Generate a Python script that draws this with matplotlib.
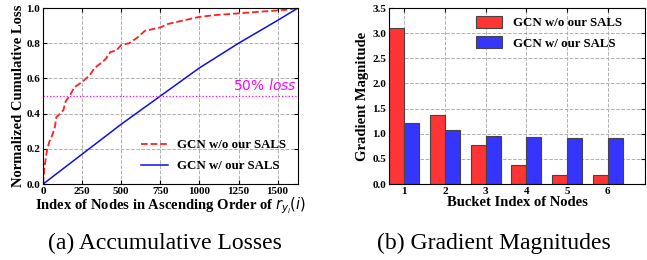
import matplotlib
matplotlib.use("Agg")
import matplotlib.pyplot as plt
import numpy as np

# (a) cumulative loss curves
x_without = [0, 10, 25, 40, 60, 75, 85, 110, 130, 145, 170, 200, 250, 300, 330, 360, 400,
             430, 470, 500, 550, 600, 650, 700, 750, 800, 850, 900, 950, 1000, 1100, 1250,
             1400, 1550, 1630]
y_without = [0.0, 0.10, 0.19, 0.24, 0.28, 0.32, 0.38, 0.40, 0.42, 0.47, 0.50, 0.55, 0.58,
             0.62, 0.66, 0.68, 0.71, 0.75, 0.76, 0.79, 0.80, 0.83, 0.87, 0.88, 0.89, 0.91,
             0.92, 0.93, 0.94, 0.95, 0.96, 0.97, 0.98, 0.99, 1.0]
x_with = [0, 250, 500, 750, 1000, 1250, 1500, 1630]
y_with = [0.0, 0.17, 0.34, 0.50, 0.66, 0.80, 0.93, 1.0]

# (b) gradient magnitude per bucket
buckets = [1, 2, 3, 4, 5, 6]
grad_without = [3.1, 1.38, 0.78, 0.38, 0.19, 0.19]
grad_with = [1.21, 1.08, 0.96, 0.94, 0.92, 0.91]

lbl_without = "GCN w/o our SALS"
lbl_with = "GCN w/ our SALS"

SERIF = "Liberation Serif"
plt.rcParams["font.family"] = SERIF
plt.rcParams["mathtext.fontset"] = "dejavusans"

fig = plt.figure(figsize=(6.47, 2.6), dpi=100)
ax1 = fig.add_axes([0.0665, 0.292, 0.394, 0.677])
ax2 = fig.add_axes([0.601, 0.292, 0.396, 0.677])


def style_axes(ax):
    ax.tick_params(direction="in", top=True, right=True, labelsize=8, pad=2, length=3)
    for lab in ax.get_xticklabels() + ax.get_yticklabels():
        lab.set_fontweight("bold")
        lab.set_family(SERIF)
    ax.grid(True, linestyle="--", color="#b0b0b0", linewidth=0.7)
    ax.set_axisbelow(True)
    for s in ax.spines.values():
        s.set_linewidth(0.8)


lab_font = {"fontsize": 10.5, "fontweight": "bold", "family": SERIF}
leg_font = {"weight": "bold", "size": 9.3, "family": SERIF}

# left panel
ax1.plot(x_without, y_without, color="#ff2020", linestyle="--", linewidth=1.3, label=lbl_without)
ax1.plot(x_with, y_with, color="#1010e0", linestyle="-", linewidth=1.1, label=lbl_with)
ax1.axhline(0.5, color="magenta", linestyle=":", linewidth=0.9)
ax1.text(1620, 0.515, "50% $\\it{loss}$", color="magenta", fontsize=10,
         family="DejaVu Sans", ha="right", va="bottom")
ax1.set_xlim(0, 1630)
ax1.set_ylim(0, 1.0)
ax1.set_xticks([0, 250, 500, 750, 1000, 1250, 1500])
ax1.set_yticks(np.arange(0, 1.01, 0.2))
ax1.set_ylabel("Normalized Cumulative Loss", labelpad=1, **lab_font)
ax1.set_xlabel("Index of Nodes in Ascending Order of $r_{y_i}(i)$", labelpad=0, **lab_font)
style_axes(ax1)
ax1.legend(loc="lower right", frameon=False, prop=leg_font,
           handlelength=2.1, handletextpad=0.7, borderaxespad=0.5, labelspacing=0.7)

# right panel
w = 0.37
pos = np.array(buckets)
ax2.bar(pos - w / 2, grad_without, width=w, color="#ff3535", edgecolor="#444444",
        linewidth=0.8, label=lbl_without)
ax2.bar(pos + w / 2, grad_with, width=w, color="#3535ff", edgecolor="#444444",
        linewidth=0.8, label=lbl_with)
ax2.set_xlim(0.62, 6.92)
ax2.set_ylim(0, 3.5)
ax2.set_xticks(buckets)
ax2.set_yticks(np.arange(0, 3.51, 0.5))
ax2.set_ylabel("Gradient Magnitude", labelpad=2, **lab_font)
ax2.set_xlabel("Bucket Index of Nodes", labelpad=0, **lab_font)
style_axes(ax2)
ax2.legend(loc="upper right", bbox_to_anchor=(0.93, 0.985), frameon=False, prop=leg_font,
           handlelength=2.0, handleheight=1.1, handletextpad=0.85,
           borderaxespad=0, labelspacing=0.5)

# captions
fig.text(0.255, 0.065, "(a) Accumulative Losses", fontsize=17, family=SERIF,
         ha="center", va="center")
fig.text(0.764, 0.065, "(b) Gradient Magnitudes", fontsize=17, family=SERIF,
         ha="center", va="center")

fig.savefig("out.png", dpi=100)
